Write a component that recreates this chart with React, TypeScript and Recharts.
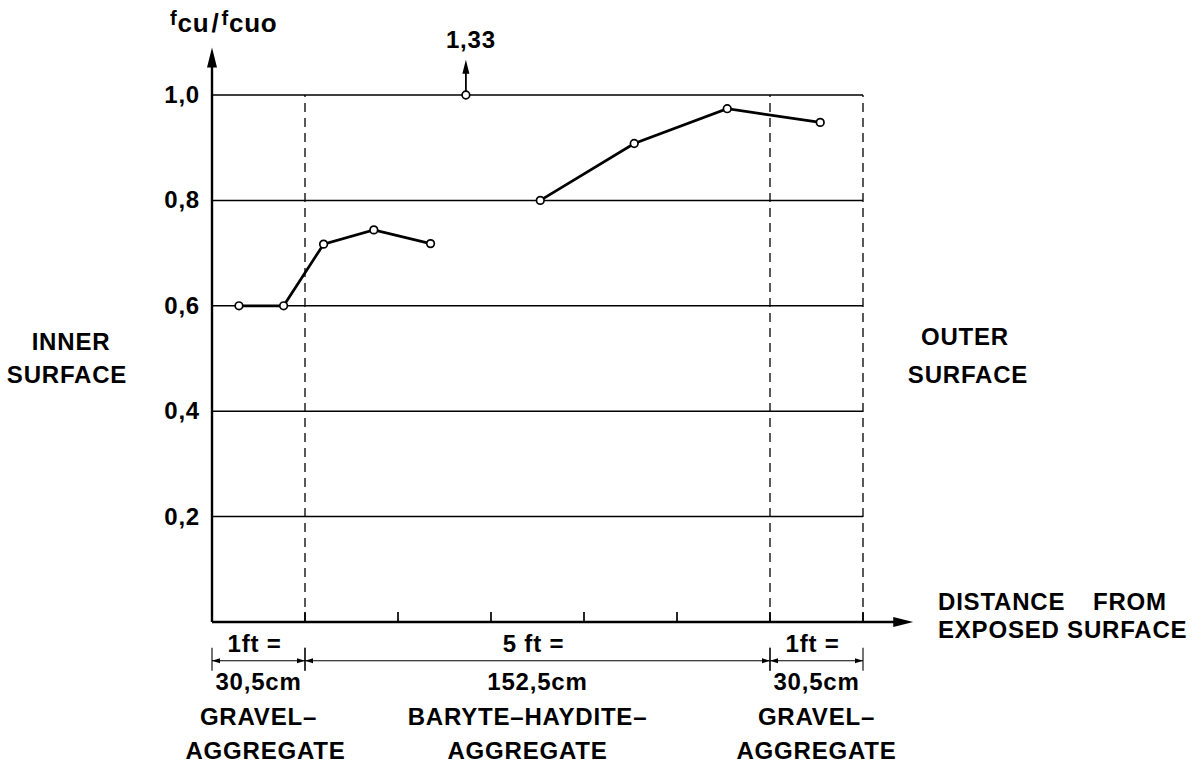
import React from "react";
import { ComposedChart, Line, XAxis, YAxis, CartesianGrid, ReferenceLine } from "recharts";

// strength ratio across the wall, distance in ft
const innerX = [0.29, 0.77, 1.2, 1.74, 2.35];
const innerY = [0.6, 0.6, 0.717, 0.744, 0.718];
const outerX = [3.53, 4.54, 5.54, 6.54];
const outerY = [0.8, 0.908, 0.974, 0.948];
const peakX = [2.73];
const peakY = [1.0];
const peakLabel = "1,33";

const xTicks = [0, 1, 2, 3, 4, 5, 6, 7];
const yTicks = [0.2, 0.4, 0.6, 0.8, 1.0];
const zoneBorders = [1, 6, 7];

const zoneStart = [0, 1, 6];
const zoneEnd = [1, 6, 7];
const zoneLen = ["1ft =", "5 ft =", "1ft ="];
const zoneCm = ["30,5cm", "152,5cm", "30,5cm"];
const zoneMat1 = ["GRAVEL–", "BARYTE–HAYDITE–", "GRAVEL–"];
const zoneMat2 = ["AGGREGATE", "AGGREGATE", "AGGREGATE"];

const toPts = (xs: number[], ys: number[]) => xs.map((x, i) => ({ x, y: ys[i] }));
const innerData = toPts(innerX, innerY);
const outerData = toPts(outerX, outerY);
const peakData = toPts(peakX, peakY);

const FONT = '"Liberation Sans", Arial, Helvetica, sans-serif';
const W = 1204;
const H = 766;
const FS = 24;
const LS = 0.8;

const OpenDot = (props: any) => {
  const { cx, cy } = props;
  if (cx == null || cy == null) return <g />;
  return <circle cx={cx} cy={cy} r={3.8} fill="#fff" stroke="#000" strokeWidth={1.7} />;
};

const ArrowShape = (props: any) => {
  const { x1, y1, x2, y2, head = 20, half = 5, width = 2.4 } = props;
  const dx = x2 - x1;
  const dy = y2 - y1;
  const len = Math.sqrt(dx * dx + dy * dy) || 1;
  const ux = dx / len;
  const uy = dy / len;
  const bx = x2 - ux * head;
  const by = y2 - uy * head;
  const pts = `${x2},${y2} ${bx - uy * half},${by + ux * half} ${bx + uy * half},${by - ux * half}`;
  return (
    <g>
      <line x1={x1} y1={y1} x2={bx + ux * 2} y2={by + uy * 2} stroke="#000" strokeWidth={width} />
      <polygon points={pts} fill="#000" />
    </g>
  );
};

const txt = {
  fontFamily: FONT,
  fontWeight: 700,
  fontSize: FS,
  letterSpacing: LS,
  fill: "#000",
  textAnchor: "middle" as const,
};

const DimShape = (props: any) => {
  const { x1, y1, x2, idx } = props;
  const y = y1;
  const cx = (x1 + x2) / 2;
  const head = 8;
  const half = 2.6;
  const shift = idx === 1 ? -10 : 0;
  return (
    <g>
      <line x1={x1} y1={y} x2={x2} y2={y} stroke="#000" strokeWidth={1.1} />
      <line x1={x1} y1={y - 13} x2={x1} y2={y + 10} stroke="#000" strokeWidth={1.1} />
      <line x1={x2} y1={y - 13} x2={x2} y2={y + 10} stroke="#000" strokeWidth={1.1} />
      <polygon points={`${x1},${y} ${x1 + head},${y - half} ${x1 + head},${y + half}`} fill="#000" />
      <polygon points={`${x2},${y} ${x2 - head},${y - half} ${x2 - head},${y + half}`} fill="#000" />
      <text x={cx - 4} y={y - 9} {...txt}>{zoneLen[idx]}</text>
      <text x={cx} y={y + 29} {...txt}>{zoneCm[idx]}</text>
      <text x={cx + shift} y={y + 64} {...txt}>{zoneMat1[idx]}</text>
      <text x={cx + shift + (idx === 0 ? 7 : 0)} y={y + 98} {...txt}>{zoneMat2[idx]}</text>
    </g>
  );
};

const YTick = (props: any) => {
  const { x, y, payload } = props;
  return (
    <text x={x} y={y + 8} {...txt} textAnchor="end">
      {payload.value.toFixed(1).replace(".", ",")}
    </text>
  );
};

const PeakShape = (props: any) => (
  <g>
    <ArrowShape {...props} head={14} half={3.5} width={1.8} />
    <text x={props.x2 + 5} y={props.y2 - 12} {...txt}>
      {peakLabel}
    </text>
  </g>
);

export default function App() {
  const label = { fontFamily: FONT, fontWeight: 700, fontSize: FS, letterSpacing: LS, fill: "#000" };
  return (
    <div style={{ position: "absolute", left: 0, top: 0, width: W, height: H, background: "#fff" }}>
      <ComposedChart width={W} height={H} margin={{ top: 95, right: 341, bottom: 144, left: 152 }}>
        <CartesianGrid horizontal vertical={false} stroke="#000" strokeWidth={1.5} />
        <XAxis
          dataKey="x"
          type="number"
          domain={[0, 7]}
          ticks={xTicks}
          mirror
          tickSize={10}
          axisLine={false}
          tickLine={{ stroke: "#000", strokeWidth: 1.7 }}
          tick={() => <g />}
          allowDuplicatedCategory={false}
        />
        <YAxis
          type="number"
          domain={[0, 1]}
          ticks={yTicks}
          width={60}
          axisLine={false}
          tickLine={false}
          tickMargin={6}
          tick={<YTick />}
        />
        {zoneBorders.map((b) => (
          <ReferenceLine key={b} x={b} stroke="#000" strokeWidth={1.3} strokeDasharray="9 6" />
        ))}
        <ReferenceLine
          segment={[{ x: 0, y: 0 }, { x: 0, y: 1.09 }]}
          ifOverflow="visible"
          shape={(p: any) => <ArrowShape {...p} />}
        />
        <ReferenceLine
          segment={[{ x: 0, y: 0 }, { x: 7.54, y: 0 }]}
          ifOverflow="visible"
          shape={(p: any) => <ArrowShape {...p} />}
        />
        <ReferenceLine
          segment={[{ x: peakX[0], y: peakY[0] }, { x: peakX[0], y: 1.067 }]}
          ifOverflow="visible"
          shape={(p: any) => <PeakShape {...p} />}
        />
        {zoneStart.map((s, i) => (
          <ReferenceLine
            key={"dim" + i}
            segment={[{ x: s, y: -0.0735 }, { x: zoneEnd[i], y: -0.0735 }]}
            ifOverflow="visible"
            shape={(p: any) => <DimShape {...p} idx={i} />}
          />
        ))}
        <Line data={innerData} dataKey="y" stroke="#000" strokeWidth={2.7} dot={<OpenDot />} isAnimationActive={false} />
        <Line data={outerData} dataKey="y" stroke="#000" strokeWidth={2.7} dot={<OpenDot />} isAnimationActive={false} />
        <Line data={peakData} dataKey="y" stroke="#000" strokeWidth={2.7} dot={<OpenDot />} isAnimationActive={false} />
      </ComposedChart>
      <svg width={W} height={H} style={{ position: "absolute", left: 0, top: 0, pointerEvents: "none" }}>
        <text x={170} y={32} {...label} fontSize={26}>
          <tspan fontSize={20} dy={-7}>f</tspan>
          <tspan dy={7}>cu</tspan>
          <tspan dx={2}>/</tspan>
          <tspan fontSize={20} dx={2} dy={-7}>f</tspan>
          <tspan dy={7}>cuo</tspan>
        </text>
        <text x={71} y={350} textAnchor="middle" {...label}>INNER</text>
        <text x={67} y={383} textAnchor="middle" {...label}>SURFACE</text>
        <text x={965} y={345} textAnchor="middle" {...label}>OUTER</text>
        <text x={968} y={383} textAnchor="middle" {...label}>SURFACE</text>
        <text x={938} y={610} {...label}>DISTANCE</text>
        <text x={1093} y={610} {...label}>FROM</text>
        <text x={938} y={638} {...label}>EXPOSED SURFACE</text>
      </svg>
    </div>
  );
}
